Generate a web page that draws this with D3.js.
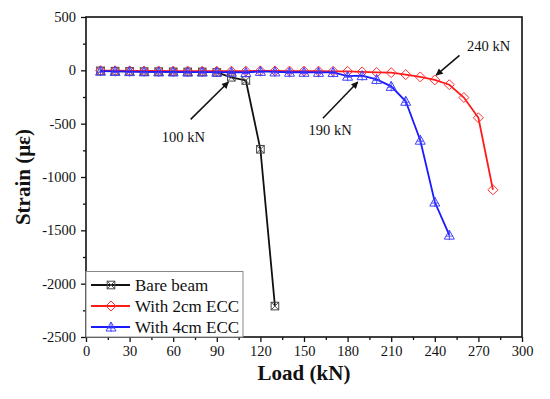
<!DOCTYPE html>
<html>
<head>
<meta charset="utf-8">
<script src="https://cdn.jsdelivr.net/npm/d3@7"></script>
<style>
  body { margin: 0; background: #fff; }
  svg { display: block; font-family: "Liberation Serif", "Times New Roman", serif; }
</style>
</head>
<body>
<div class="graph"></div>
<script>
// loads (kN) and strains (micro-strain)
const bareLoad = [10, 20, 30, 40, 50, 60, 70, 80, 90, 100, 110, 120, 130];
const bareStrain = [-5, -8, -10, -12, -12, -14, -15, -15, -20, -65, -95, -740, -2210];

const ecc2Load = [10, 20, 30, 40, 50, 60, 70, 80, 90, 100, 110, 120, 130, 140, 150, 160, 170, 180, 190, 200, 210, 220, 230, 240, 250, 260, 270, 280];
const ecc2Strain = [-3, -4, -5, -6, -6, -7, -7, -8, -8, -8, -8, -5, -6, -7, -8, -8, -9, -10, -15, -20, -22, -40, -62, -90, -135, -255, -445, -1120];

const ecc4Load = [10, 20, 30, 40, 50, 60, 70, 80, 90, 100, 110, 120, 130, 140, 150, 160, 170, 180, 190, 200, 210, 220, 230, 240, 250];
const ecc4Strain = [-8, -10, -12, -14, -15, -15, -16, -16, -17, -18, -20, -10, -15, -18, -18, -19, -20, -55, -50, -85, -150, -290, -655, -1235, -1545];

const xTicks = [0, 30, 60, 90, 120, 150, 180, 210, 240, 270, 300];
const yTicks = [500, 0, -500, -1000, -1500, -2000, -2500];

const seriesNames = ["Bare beam", "With 2cm ECC", "With 4cm ECC"];

// annotation arrows: [label, textLoad, textStrain, tailLoad, tailStrain, tipLoad, tipStrain]
const notes = [
  ["100 kN", 67, -620, 72, -460, 98, -110],
  ["190 kN", 168, -560, 163, -450, 187, -110],
  ["240 kN", 277, 230, 257, 140, 241, -45]
];

const W = 550, H = 399;
const margin = {top: 17, right: 28, bottom: 62, left: 86};

const svg = d3.select(".graph").append("svg").attr("width", W).attr("height", H);
svg.append("rect").attr("width", W).attr("height", H).attr("fill", "#fff");

const x = d3.scaleLinear().domain([0, 300]).range([margin.left, W - margin.right]);
const y = d3.scaleLinear().domain([-2500, 500]).range([H - margin.bottom, margin.top]);

const defs = svg.append("defs");
defs.append("marker").attr("id", "arr")
  .attr("viewBox", "0 0 10 10").attr("refX", 9).attr("refY", 5)
  .attr("markerWidth", 9).attr("markerHeight", 7).attr("markerUnits", "userSpaceOnUse")
  .attr("orient", "auto")
  .append("path").attr("d", "M0,0 L10,5 L0,10 Z").attr("fill", "#111");

// plain hyphen for negatives, like the original
const fmt = d => String(d);

// axes
const xAxis = d3.axisBottom(x).tickValues(xTicks).tickSize(5).tickPadding(4).tickFormat(fmt);
const yAxis = d3.axisLeft(y).tickValues(yTicks).tickSize(5).tickPadding(5).tickFormat(fmt);
const xMinor = d3.axisBottom(x).tickValues(d3.range(15, 300, 30)).tickSize(3).tickFormat("");
const yMinor = d3.axisLeft(y).tickValues(d3.range(-2250, 500, 500)).tickSize(3).tickFormat("");

svg.append("g").attr("transform", "translate(0," + (H - margin.bottom) + ")").call(xAxis);
svg.append("g").attr("transform", "translate(0," + (H - margin.bottom) + ")").call(xMinor);
svg.append("g").attr("transform", "translate(" + margin.left + ",0)").call(yAxis);
svg.append("g").attr("transform", "translate(" + margin.left + ",0)").call(yMinor);

svg.selectAll(".domain").remove();
svg.selectAll(".tick line").attr("stroke", "#111").attr("stroke-width", 1.3);
svg.selectAll(".tick text").attr("font-family", "Liberation Serif").attr("font-size", 14.5).attr("fill", "#111");

// frame
svg.append("rect")
  .attr("x", x(0)).attr("y", y(500))
  .attr("width", x(300) - x(0)).attr("height", y(-2500) - y(500))
  .attr("fill", "none").attr("stroke", "#111").attr("stroke-width", 1.6);

// symbols
function drawSquareX(g, cx, cy, color) {
  const s = 3.8;
  g.append("rect").attr("x", cx - s).attr("y", cy - s).attr("width", 2 * s).attr("height", 2 * s)
    .attr("fill", "none").attr("stroke", color).attr("stroke-width", 1);
  g.append("path").attr("d", `M${cx - s},${cy - s}L${cx + s},${cy + s}M${cx + s},${cy - s}L${cx - s},${cy + s}`)
    .attr("stroke", color).attr("stroke-width", 0.9).attr("fill", "none");
}
function drawDiamond(g, cx, cy, color) {
  const s = 5;
  g.append("path").attr("d", `M${cx},${cy - s}L${cx + s},${cy}L${cx},${cy + s}L${cx - s},${cy}Z`)
    .attr("fill", "none").attr("stroke", color).attr("stroke-width", 1);
}
function drawTriPlus(g, cx, cy, color) {
  const s = 5;
  g.append("path").attr("d", `M${cx},${cy - s}L${cx + s},${cy + s * 0.8}L${cx - s},${cy + s * 0.8}Z`)
    .attr("fill", "none").attr("stroke", color).attr("stroke-width", 1);
  g.append("path").attr("d", `M${cx},${cy - s}L${cx},${cy + s * 0.8 + 1}M${cx - s * 0.7},${cy + 1}L${cx + s * 0.7},${cy + 1}`)
    .attr("stroke", color).attr("stroke-width", 0.9).attr("fill", "none");
}

const series = [
  {load: bareLoad, strain: bareStrain, color: "#111", mcolor: "#444", sym: drawSquareX},
  {load: ecc2Load, strain: ecc2Strain, color: "#ff1a1a", mcolor: "#ff3030", sym: drawDiamond},
  {load: ecc4Load, strain: ecc4Strain, color: "#1a1aff", mcolor: "#4040ff", sym: drawTriPlus}
];

const line = d3.line().x(d => x(d[0])).y(d => y(d[1]));

series.forEach(s => {
  const pts = s.load.map((l, i) => [l, s.strain[i]]);
  const g = svg.append("g");
  g.append("path").attr("d", line(pts)).attr("fill", "none")
    .attr("stroke", s.color).attr("stroke-width", 1.8);
  pts.forEach(p => s.sym(g, x(p[0]), y(p[1]), s.mcolor));
});

// annotations
notes.forEach(n => {
  svg.append("line")
    .attr("x1", x(n[3])).attr("y1", y(n[4]))
    .attr("x2", x(n[5])).attr("y2", y(n[6]))
    .attr("stroke", "#111").attr("stroke-width", 1.5)
    .attr("marker-end", "url(#arr)");
  svg.append("text")
    .attr("x", x(n[1])).attr("y", y(n[2]))
    .attr("text-anchor", "middle").attr("dy", "0.35em")
    .attr("font-size", 14.5).attr("fill", "#111")
    .text(n[0]);
});

// legend
const lg = svg.append("g");
lg.append("rect").attr("x", x(0)).attr("y", 271.5).attr("width", 157).attr("height", y(-2500) - 271.5)
  .attr("fill", "#fff").attr("stroke", "#888").attr("stroke-width", 1);
series.forEach((s, i) => {
  const ly = 285 + i * 21;
  lg.append("line").attr("x1", 91).attr("x2", 130).attr("y1", ly).attr("y2", ly)
    .attr("stroke", s.color).attr("stroke-width", 1.8);
  s.sym(lg, 111, ly, s.mcolor);
  lg.append("text").attr("x", 135).attr("y", ly).attr("dy", "0.35em")
    .attr("font-size", 17).attr("fill", "#111").text(seriesNames[i]);
});

// axis titles
svg.append("text")
  .attr("x", (x(0) + x(300)) / 2).attr("y", 380)
  .attr("text-anchor", "middle").attr("font-weight", "bold").attr("font-size", 21)
  .attr("fill", "#111").text("Load (kN)");
svg.append("text")
  .attr("transform", "translate(30," + y(-1000) + ") rotate(-90)")
  .attr("text-anchor", "middle").attr("font-weight", "bold").attr("font-size", 21)
  .attr("fill", "#111").text("Strain (με)");
</script>
</body>
</html>
